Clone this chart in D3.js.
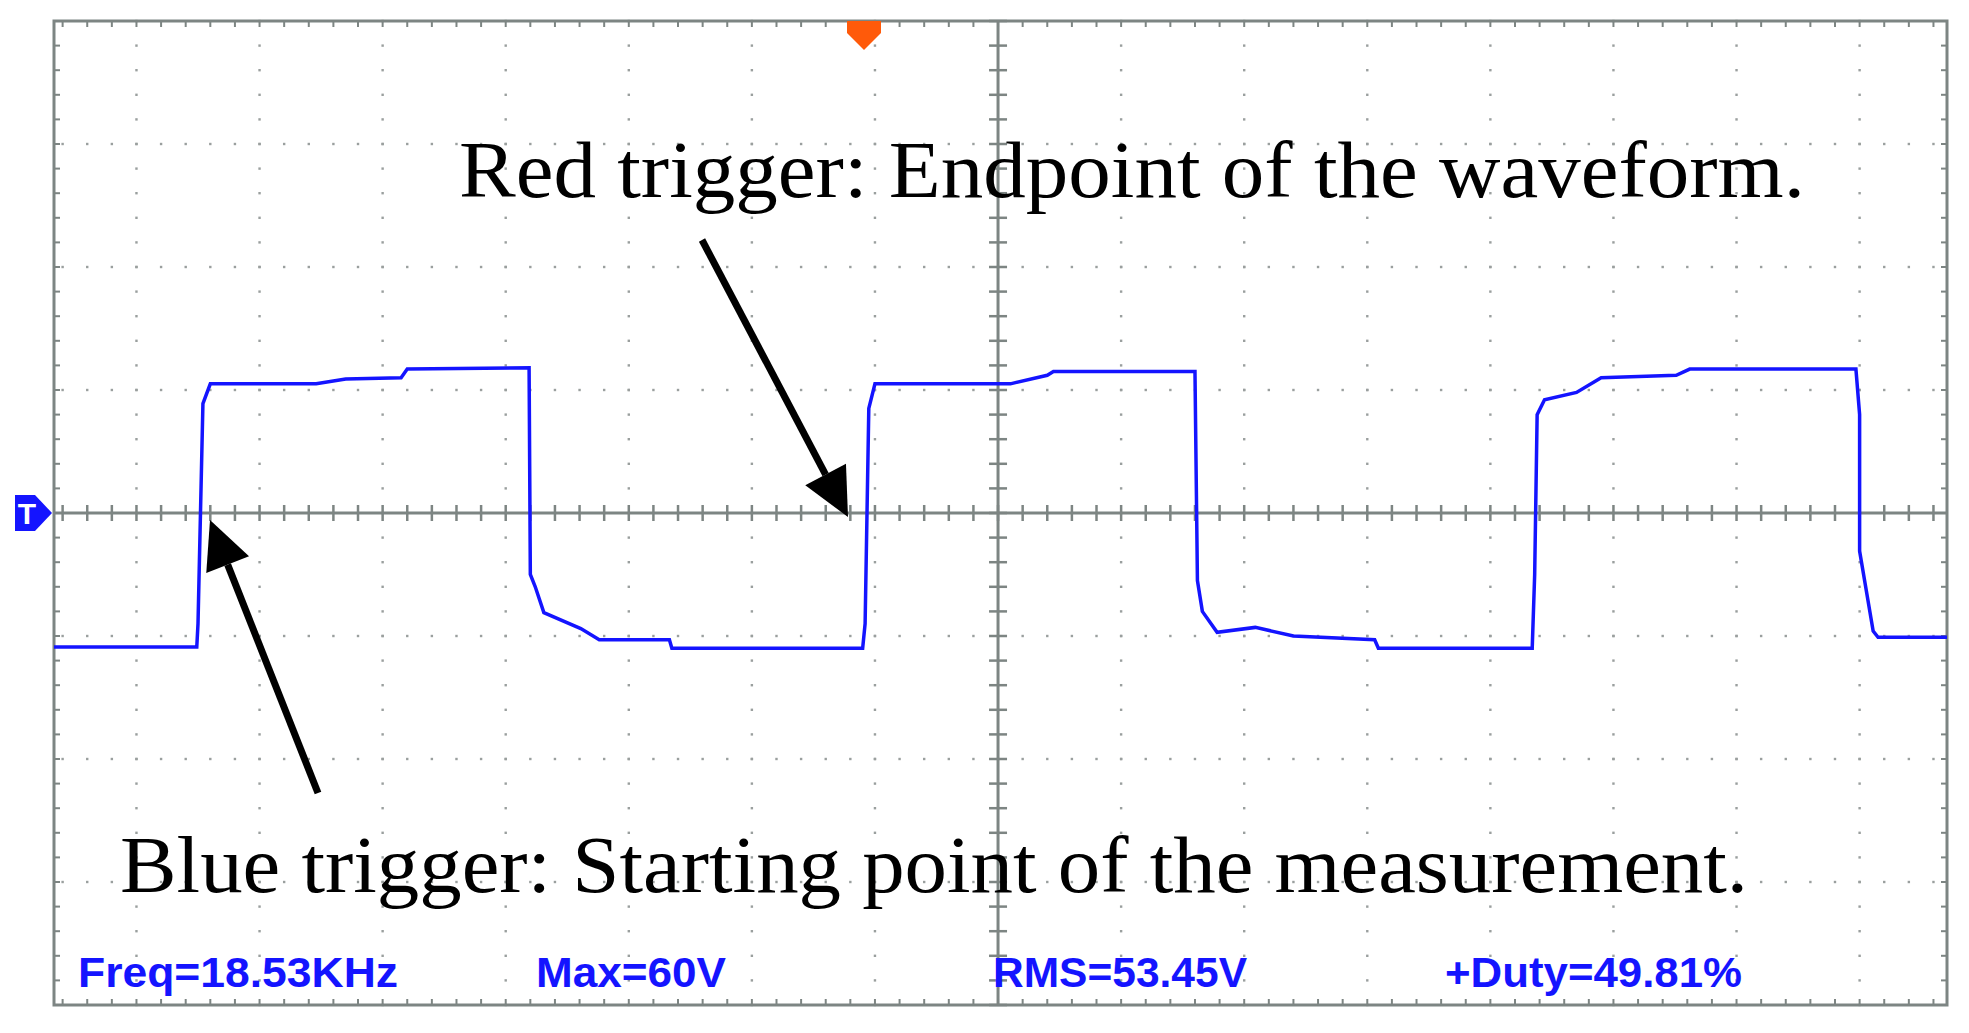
<!DOCTYPE html>
<html>
<head>
<meta charset="utf-8">
<script src="https://cdn.jsdelivr.net/npm/d3@7"></script>
<style>
  body { margin: 0; background: #fff; }
  svg { display: block; }
</style>
</head>
<body>
<script>
// waveform, in screen divisions: [time div from centre, volts div from centre]
const waveform = [
  [-7.67, -1.09], [-6.51, -1.09], [-6.50, -0.90], [-6.46, 0.89], [-6.40, 1.05],
  [-5.54, 1.05], [-5.30, 1.09], [-4.85, 1.10], [-4.80, 1.17], [-3.81, 1.18],
  [-3.80, -0.50], [-3.76, -0.60], [-3.69, -0.81], [-3.39, -0.94], [-3.24, -1.03],
  [-2.67, -1.03], [-2.65, -1.10], [-1.10, -1.10], [-1.08, -0.90], [-1.05, 0.85],
  [-1.00, 1.05], [0.10, 1.05], [0.40, 1.12], [0.45, 1.15], [1.60, 1.15],
  [1.62, -0.55], [1.66, -0.80], [1.78, -0.97], [2.09, -0.93], [2.40, -1.00],
  [3.06, -1.03], [3.09, -1.10], [4.34, -1.10], [4.36, -0.50], [4.38, 0.80],
  [4.44, 0.92], [4.70, 0.98], [4.90, 1.10], [5.51, 1.12], [5.62, 1.17],
  [6.97, 1.17], [7.00, 0.80], [7.00, -0.31], [7.11, -0.96], [7.15, -1.01], [7.71, -1.01]
];
const readouts = ["Freq=18.53KHz", "Max=60V", "RMS=53.45V", "+Duty=49.81%"];
const readoutX = [78, 536, 993, 1445];
const readoutLen = [320, 190, 254, 297];
const xDomain = [-7.67, 7.71];
const yDomain = [-4, 4];

const W = 1969, H = 1033;
const svg = d3.select("body").append("svg").attr("width", W).attr("height", H);

const x = d3.scaleLinear().domain(xDomain).range([54, 1947]);
const y = d3.scaleLinear().domain(yDomain).range([1005, 21]);
const grey = "#7d8583";

// dotted grid: dots every 0.2 div along each integer grid line
const dots = [];
for (let c = -7; c <= 7; c++) {
  if (c === 0) continue;
  for (let v = -4; v <= 4.001; v += 0.2) dots.push([c, v]);
}
for (let r = -3; r <= 3; r++) {
  if (r === 0) continue;
  for (let t = Math.ceil(xDomain[0] / 0.2) * 0.2; t <= xDomain[1]; t += 0.2) dots.push([t, r]);
}
svg.append("g").selectAll("rect").data(dots).join("rect")
  .attr("x", d => x(d[0]) - 1.2).attr("y", d => y(d[1]) - 1.2)
  .attr("width", 2.4).attr("height", 2.4).attr("fill", "#9a9f9e");

// centre cross with ticks
const cross = svg.append("g").attr("stroke", grey);
cross.append("line").attr("x1", x(xDomain[0])).attr("x2", x(xDomain[1]))
  .attr("y1", y(0)).attr("y2", y(0)).attr("stroke-width", 3);
cross.append("line").attr("x1", x(0)).attr("x2", x(0))
  .attr("y1", y(4)).attr("y2", y(-4)).attr("stroke-width", 3);
const xt = d3.range(Math.ceil(xDomain[0] / 0.2), Math.floor(xDomain[1] / 0.2) + 1).map(i => i * 0.2);
const yt = d3.range(-20, 21).map(i => i * 0.2);
cross.selectAll(".xt").data(xt).join("line")
  .attr("x1", d => x(d)).attr("x2", d => x(d))
  .attr("y1", y(0) - 8).attr("y2", y(0) + 8).attr("stroke-width", 2.5);
cross.selectAll(".yt").data(yt).join("line")
  .attr("y1", d => y(d)).attr("y2", d => y(d))
  .attr("x1", x(0) - 9).attr("x2", x(0) + 9).attr("stroke-width", 2.5);

// border with inward ticks
const border = svg.append("g").attr("stroke", grey);
border.append("rect").attr("x", x(xDomain[0])).attr("y", y(4))
  .attr("width", x(xDomain[1]) - x(xDomain[0])).attr("height", y(-4) - y(4))
  .attr("fill", "none").attr("stroke-width", 3);
border.selectAll(".bt").data(xt).join("line")
  .attr("x1", d => x(d)).attr("x2", d => x(d))
  .attr("y1", y(4)).attr("y2", y(4) + 6).attr("stroke-width", 2);
border.selectAll(".bb").data(xt).join("line")
  .attr("x1", d => x(d)).attr("x2", d => x(d))
  .attr("y1", y(-4)).attr("y2", y(-4) - 6).attr("stroke-width", 2);
border.selectAll(".bl").data(yt).join("line")
  .attr("y1", d => y(d)).attr("y2", d => y(d))
  .attr("x1", x(xDomain[0])).attr("x2", x(xDomain[0]) + 6).attr("stroke-width", 2);
border.selectAll(".br").data(yt).join("line")
  .attr("y1", d => y(d)).attr("y2", d => y(d))
  .attr("x1", x(xDomain[1])).attr("x2", x(xDomain[1]) - 6).attr("stroke-width", 2);

// waveform
svg.append("path").datum(waveform)
  .attr("d", d3.line().x(d => x(d[0])).y(d => y(d[1])))
  .attr("fill", "none").attr("stroke", "#1414ff").attr("stroke-width", 3.5);

// trigger markers
const tx = 864, ty = y(4);
svg.append("path")
  .attr("d", `M${tx - 17},${ty} L${tx + 17},${ty} L${tx + 17},${ty + 12} L${tx},${ty + 29} L${tx - 17},${ty + 12}Z`)
  .attr("fill", "#ff5a0a");
const my = y(0);
svg.append("path")
  .attr("d", `M15,${my - 18} L35,${my - 18} L52,${my} L35,${my + 18} L15,${my + 18}Z`)
  .attr("fill", "#1414ff");
svg.append("text").attr("x", 27).attr("y", my + 11).attr("text-anchor", "middle")
  .attr("font-family", "Liberation Sans, Arial, sans-serif").attr("font-weight", "bold")
  .attr("font-size", 30).attr("fill", "#fff").text("T");

// arrows
function arrow(x1, y1, x2, y2) {
  const a = Math.atan2(y2 - y1, x2 - x1), L = 48, hw = 23;
  const bx = x2 - L * Math.cos(a), by = y2 - L * Math.sin(a);
  svg.append("line").attr("x1", x1).attr("y1", y1).attr("x2", bx).attr("y2", by)
    .attr("stroke", "#000").attr("stroke-width", 7);
  svg.append("path")
    .attr("d", `M${x2},${y2} L${bx + hw * Math.sin(a)},${by - hw * Math.cos(a)} L${bx - hw * Math.sin(a)},${by + hw * Math.cos(a)}Z`)
    .attr("fill", "#000");
}
arrow(702, 240, 848, 517);
arrow(318, 793, 210, 520);

// annotations
const serif = "'Palatino Linotype', 'Book Antiqua', 'Liberation Serif', serif";
svg.append("text").attr("x", 459).attr("y", 197)
  .attr("font-family", serif).attr("font-size", 80)
  .attr("textLength", 1346).attr("lengthAdjust", "spacingAndGlyphs")
  .text("Red trigger: Endpoint of the waveform.");
svg.append("text").attr("x", 120).attr("y", 892)
  .attr("font-family", serif).attr("font-size", 80)
  .attr("textLength", 1628).attr("lengthAdjust", "spacingAndGlyphs")
  .text("Blue trigger: Starting point of the measurement.");

svg.append("g").selectAll("text").data(readouts).join("text")
  .attr("x", (d, i) => readoutX[i]).attr("y", 987)
  .attr("textLength", (d, i) => readoutLen[i]).attr("lengthAdjust", "spacingAndGlyphs")
  .attr("font-family", "'Liberation Sans Narrow', 'Liberation Sans', Arial, sans-serif")
  .attr("font-weight", "bold").attr("font-size", 42).attr("fill", "#1414ff")
  .text(d => d);
</script>
</body>
</html>
